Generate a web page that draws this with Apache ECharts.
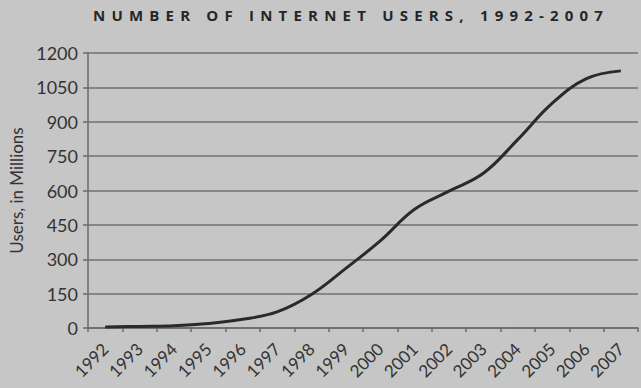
<!DOCTYPE html>
<html>
<head>
<meta charset="utf-8">
<script src="https://cdn.jsdelivr.net/npm/echarts@6/dist/echarts.min.js"></script>
<style>
html,body{margin:0;padding:0;background:#c6c6c6;}
#chart{width:641px;height:388px;}
</style>
</head>
<body>
<div id="chart"></div>
<script>
var titleText = 'NUMBER OF INTERNET USERS, 1992-2007';
var yAxisName = 'Users, in Millions';
var years = ['1992','1993','1994','1995','1996','1997','1998','1999','2000','2001','2002','2003','2004','2005','2006','2007'];
var users = [4, 7, 10, 20, 38, 70, 146, 260, 380, 518, 597, 675, 822, 980, 1088, 1122];
var yTicks = [0, 150, 300, 450, 600, 750, 900, 1050, 1200];

var chart = echarts.init(document.getElementById('chart'), null, {renderer: 'svg'});
chart.setOption({
  animation: false,
  backgroundColor: '#c6c6c6',
  title: {
    text: titleText,
    left: 88,
    top: 2,
    textStyle: {fontFamily: 'Open Sans', fontWeight: 'bold', fontSize: 15, color: '#262626'}
  },
  grid: {left: 88, right: 3, top: 53, bottom: 60, containLabel: false},
  xAxis: {
    type: 'category',
    data: years,
    boundaryGap: true,
    axisLine: {lineStyle: {color: '#6a6a6a', width: 1.5}},
    axisTick: {show: true, length: 4, lineStyle: {color: '#6a6a6a', width: 1.5}},
    axisLabel: {rotate: 45, margin: 18, fontFamily: 'Lato', fontSize: 17, color: '#333'}
  },
  yAxis: {
    type: 'value',
    min: yTicks[0],
    max: yTicks[yTicks.length - 1],
    interval: 150,
    name: yAxisName,
    nameLocation: 'middle',
    nameGap: 62,
    nameTextStyle: {fontFamily: 'Lato', fontSize: 17, color: '#333'},
    axisLine: {show: true, lineStyle: {color: '#6a6a6a', width: 1.5}},
    axisTick: {show: true, length: 5, lineStyle: {color: '#6a6a6a', width: 1.5}},
    axisLabel: {margin: 10, fontFamily: 'Lato', fontSize: 18, color: '#333', formatter: function(v){ return String(v); }},
    splitLine: {show: true, lineStyle: {color: '#707070', width: 1.5}}
  },
  series: [{
    type: 'line',
    data: users,
    smooth: 0.4,
    symbol: 'none',
    lineStyle: {color: '#2a2a2a', width: 3}
  }]
});
setTimeout(function(){
  var texts = document.querySelectorAll('#chart svg text');
  texts.forEach(function(t){
    if (t.textContent.indexOf('NUMBER OF') === 0) {
      t.setAttribute('letter-spacing', '6.2px');
      t.style.letterSpacing = '6.2px';
    }
  });
}, 0);
</script>
</body>
</html>
